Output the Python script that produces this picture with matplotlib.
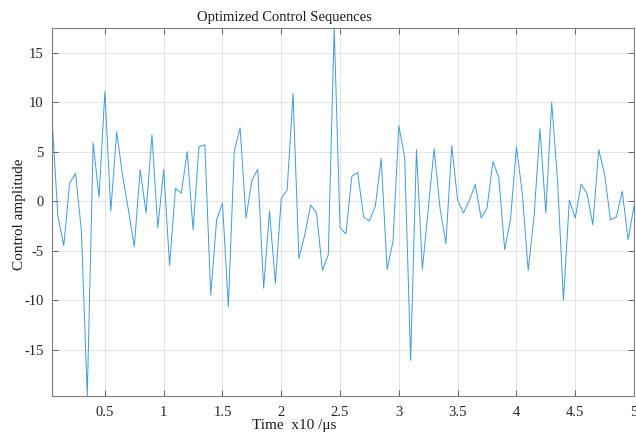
import numpy as np
import matplotlib
matplotlib.use("Agg")
import matplotlib.pyplot as plt

# time axis (x10 us) and control amplitude values
time = np.round(np.arange(1, 101) * 0.05, 2)
amplitude = [
    8.4, -1.5, -4.5, 1.8, 2.8, -3.0, -19.7, 5.9, 0.4, 11.1,
    -1.0, 7.0, 2.6, -0.9, -4.6, 3.2, -1.2, 6.7, -2.7, 3.2,
    -6.5, 1.3, 0.8, 5.0, -2.9, 5.5, 5.7, -9.5, -1.9, -0.2,
    -10.7, 5.0, 7.4, -1.7, 2.1, 3.2, -8.8, -1.0, -8.3, 0.3,
    1.1, 10.9, -5.8, -3.4, -0.4, -1.2, -7.0, -5.4, 17.5, -2.7,
    -3.3, 2.5, 2.9, -1.6, -2.0, -0.5, 4.3, -6.9, -4.1, 7.6,
    4.4, -16.1, 5.2, -6.9, -0.8, 5.3, -0.7, -4.3, 5.6, 0.1,
    -1.2, 0.1, 1.7, -1.7, -0.7, 4.0, 2.4, -4.9, -1.8, 5.5,
    0.8, -7.0, -1.5, 7.3, -1.2, 10.0, 2.0, -10.0, 0.1, -1.7,
    1.7, 0.8, -2.4, 5.2, 2.7, -1.9, -1.6, 1.0, -3.9, -0.5,
]
xticks = [0.5, 1, 1.5, 2, 2.5, 3, 3.5, 4, 4.5, 5]
xticklabels = ["0.5", "1", "1.5", "2", "2.5", "3", "3.5", "4", "4.5", "5"]
yticks = [-15, -10, -5, 0, 5, 10, 15]
yticklabels = ["-15", "-10", "-5", "0", "5", "10", "15"]

title = "Optimized Control Sequences"
xlabel = "Time  x10 /\u03bcs"
ylabel = "Control amplitude"

plt.rcParams['font.family'] = ['Liberation Serif', 'DejaVu Serif']

fig = plt.figure(figsize=(6.36, 4.32), dpi=100)
ax = fig.add_axes([52/636, 1 - 396/432, (634 - 52)/636, (396 - 28)/432])

ax.plot(time, amplitude, color='#3d9be0', linewidth=0.7)

ax.set_xlim(time[0], time[-1])
ax.set_ylim(min(amplitude), max(amplitude))
ax.set_xticks(xticks)
ax.set_xticklabels(xticklabels)
ax.set_yticks(yticks)
ax.set_yticklabels(yticklabels)

ax.grid(True, color='#dedede', linewidth=0.6)
ax.set_axisbelow(True)
for s in ax.spines.values():
    s.set_color('#7f7f7f')
    s.set_linewidth(0.8)
ax.tick_params(direction='in', length=4, width=0.6, color='#4d4d4d',
               top=True, right=True, labelsize=10.5, labelcolor='#262626')
ax.tick_params(axis='x', pad=7)
ax.tick_params(axis='y', pad=6)

fig.text(284/636, 1 - 17/432, title, ha='center', va='center', fontsize=10.5, color='#1a1a1a')
fig.text(294/636, 1 - 425/432, xlabel, ha='center', va='center', fontsize=11, color='#1a1a1a')
fig.text(20/636, 1 - 214/432, ylabel, ha='center', va='center', rotation=90, fontsize=11, color='#1a1a1a')

fig.savefig("out.png", dpi=100)
